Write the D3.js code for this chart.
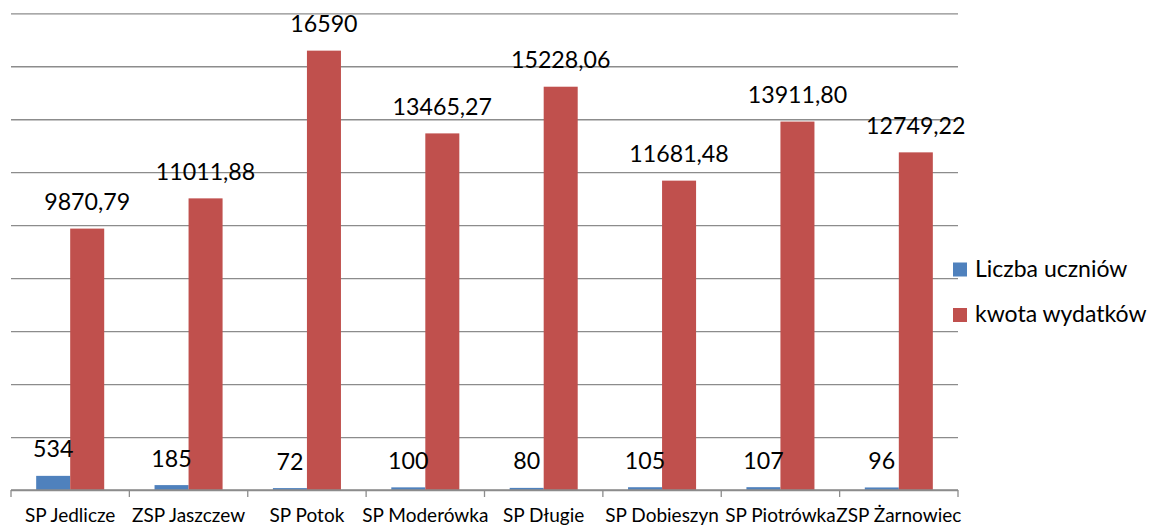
<!DOCTYPE html>
<html>
<head>
<meta charset="utf-8">
<script src="https://cdn.jsdelivr.net/npm/d3@7"></script>
<style>
  html, body { margin: 0; padding: 0; background: #ffffff; }
  svg { display: block; }
  text { font-family: Lato, "Open Sans", sans-serif; fill: #000; }
</style>
</head>
<body>
<svg id="chart" width="1170" height="529"></svg>
<script>
// School names (category axis)
const schools = ["SP Jedlicze", "ZSP Jaszczew", "SP Potok", "SP Moderówka", "SP Długie", "SP Dobieszyn", "SP Piotrówka", "ZSP Żarnowiec"];
// Series names
const seriesNames = ["Liczba uczniów", "kwota wydatków"];
// Number of pupils per school
const pupils = [534, 185, 72, 100, 80, 105, 107, 96];
// Expenditure amount per school
const spending = [9870.79, 11011.88, 16590, 13465.27, 15228.06, 11681.48, 13911.80, 12749.22];
// Value axis gridline ticks
const gridTicks = [0, 2000, 4000, 6000, 8000, 10000, 12000, 14000, 16000, 18000];

const colors = ["#4F81BD", "#C0504D"];

const svg = d3.select("#chart");
const plot = { left: 11, right: 958, top: 13.3, bottom: 490 };

const rows = schools.map((s, i) => ({ school: s, values: [pupils[i], spending[i]] }));

const x0 = d3.scaleBand().domain(schools).range([plot.left, plot.right]).paddingInner(0).paddingOuter(0);
const x1 = d3.scaleBand().domain(seriesNames).range([0, x0.bandwidth()]).paddingInner(0).paddingOuter(0.74);
const y = d3.scaleLinear().domain([0, 18000]).range([plot.bottom, plot.top]);

// Horizontal gridlines
const grid = svg.append("g")
  .attr("transform", `translate(${plot.left},0)`)
  .call(d3.axisLeft(y).tickValues(gridTicks).tickSize(-(plot.right - plot.left)).tickFormat(""));
grid.select(".domain").remove();
grid.selectAll(".tick line").attr("stroke", "#8c8c8c").attr("stroke-width", 1.3);

// Bars
const groups = svg.append("g").selectAll("g")
  .data(rows).join("g")
  .attr("transform", d => `translate(${x0(d.school)},0)`);

groups.selectAll("rect")
  .data(d => d.values.map((v, k) => ({ key: seriesNames[k], value: v, k })))
  .join("rect")
  .attr("x", d => x1(d.key))
  .attr("width", x1.bandwidth())
  .attr("y", d => y(d.value))
  .attr("height", d => y(0) - y(d.value))
  .attr("fill", d => colors[d.k]);

// Category axis with ticks on the category boundaries
const boundaries = schools.map(s => x0(s)).concat([plot.right]);
const axis = svg.append("g");
axis.append("line")
  .attr("x1", plot.left).attr("x2", plot.right)
  .attr("y1", plot.bottom).attr("y2", plot.bottom)
  .attr("stroke", "#8c8c8c").attr("stroke-width", 1.3);
axis.selectAll("line.tick")
  .data(boundaries).join("line")
  .attr("class", "tick")
  .attr("x1", d => d).attr("x2", d => d)
  .attr("y1", plot.bottom).attr("y2", plot.bottom + 7)
  .attr("stroke", "#8c8c8c").attr("stroke-width", 1.3);
axis.selectAll("text")
  .data(schools).join("text")
  .attr("x", d => x0(d) + x0.bandwidth() / 2)
  .attr("y", 522)
  .attr("text-anchor", "middle")
  .style("font-size", "19px")
  .text(d => d);

// Data labels above the bars
const fmt = v => Number.isInteger(v) ? String(v) : v.toFixed(2).replace(".", ",");
groups.selectAll("text")
  .data(d => d.values.map((v, k) => ({ key: seriesNames[k], value: v, k })))
  .join("text")
  .attr("x", d => x1(d.key) + x1.bandwidth() / 2)
  .attr("y", d => y(d.value) - 18.5)
  .attr("text-anchor", "middle")
  .style("font-size", "23.2px")
  .text(d => fmt(d.value));

// Legend
const legend = svg.append("g");
const legendRows = [{ name: seriesNames[0], y: 262.5 }, { name: seriesNames[1], y: 308 }];
legendRows.forEach((r, k) => {
  legend.append("rect")
    .attr("x", 953).attr("y", r.y).attr("width", 14).attr("height", 14)
    .attr("fill", colors[k]);
  legend.append("text")
    .attr("x", 975).attr("y", r.y + 14)
    .style("font-size", "23px")
    .text(r.name);
});
</script>
</body>
</html>
